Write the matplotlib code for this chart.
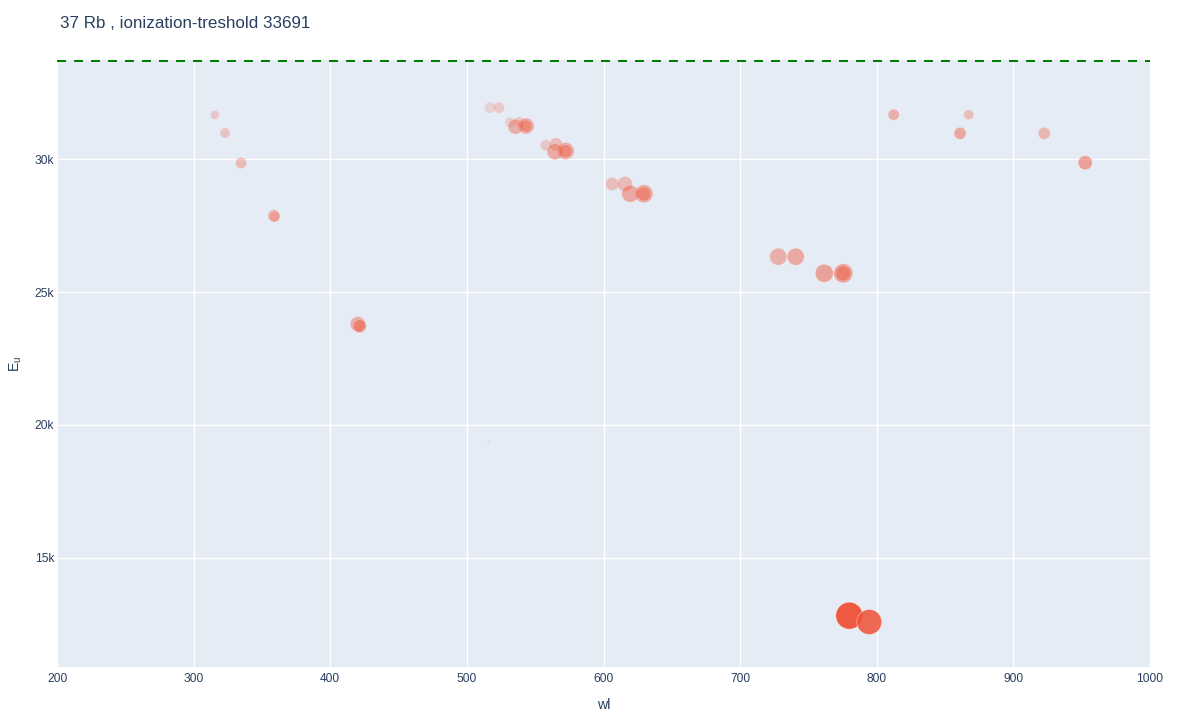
import numpy as np
import matplotlib
matplotlib.use("Agg")
import matplotlib.pyplot as plt

plt.rcParams['font.family'] = ['Liberation Sans', 'DejaVu Sans']

# Rb lines: wavelength (nm), upper level energy (cm-1), marker size, opacity
wl = [315.6, 323.0, 334.7, 358.7, 359.2, 420.2, 421.6, 516.4,
      516.9, 523.5, 531.6, 538.4, 535.7, 543.3, 543.3,
      557.7, 565.2, 564.5, 572.3, 572.3,
      606.4, 615.7, 619.6, 629.6, 629.6,
      727.9, 740.7, 761.6, 775.5, 775.5,
      779.9, 794.5,
      812.4, 867.3, 861.0, 922.6, 952.6]
e_upper = [31654, 30977, 29850, 27870, 27835, 23793, 23715, 19361,
           31929, 31929, 31380, 31402, 31214, 31241, 31235,
           30515, 30553, 30274, 30301, 30295,
           29060, 29060, 28695, 28695, 28690,
           26327, 26327, 25703, 25703, 25698,
           12831, 12594,
           31665, 31665, 30966, 30966, 29861]
size_val = [9, 10, 11, 12, 11, 15, 13, 3,
            11, 11, 10, 10, 15, 16, 12,
            11, 13, 16, 17, 13,
            13, 15, 17, 18, 14,
            17, 17, 18, 19, 15,
            27, 25,
            11, 10, 12, 12, 14]
opac = [0.24, 0.27, 0.33, 0.3, 0.3, 0.42, 0.5, 0.1,
        0.18, 0.22, 0.2, 0.22, 0.4, 0.42, 0.4,
        0.25, 0.3, 0.42, 0.42, 0.4,
        0.3, 0.33, 0.45, 0.45, 0.42,
        0.4, 0.45, 0.48, 0.5, 0.45,
        0.97, 0.88,
        0.4, 0.3, 0.45, 0.35, 0.5]
threshold = 33691

fig = plt.figure(figsize=(12, 7.2), dpi=100)
ax = fig.add_axes([57/1200, 1-667/720, (1150-57)/1200, (667-60)/720])
ax.set_facecolor('#E5ECF6')

base = np.array([239, 85, 59]) / 255
cols = [(*base, a) for a in opac]
edges = [(1, 1, 1, a * 0.6) for a in opac]
s = [(d * 0.72) ** 2 for d in size_val]
ax.scatter(wl, e_upper, s=s, c=cols, edgecolors=edges, linewidths=0.5, zorder=3)

ax.plot([200, 1000], [threshold, threshold], color='green', lw=1.44,
        dashes=(4.5, 4), clip_on=False, zorder=4)

ax.set_xlim(200, 1000)
ax.set_ylim(10902, 33722)
ax.set_xticks(range(200, 1001, 100))
ax.set_yticks([15000, 20000, 25000, 30000])
ax.set_yticklabels(['15k', '20k', '25k', '30k'])
ax.grid(True, color='white', lw=1)
ax.set_axisbelow(True)
for sp in ax.spines.values():
    sp.set_visible(False)
ax.tick_params(length=0, labelsize=8.64, colors='#2a3f5f')
ax.tick_params(axis='x', pad=4)
ax.tick_params(axis='y', pad=2)

ax.set_xlabel('wl', fontsize=10.08, color='#2a3f5f', labelpad=10)
ax.set_ylabel(r'E$_\mathregular{u}$', fontsize=10.08, color='#2a3f5f', labelpad=8)

fig.text(60/1200, 1-24/720, '37 Rb , ionization-treshold 33691',
         fontsize=12.24, color='#2a3f5f', va='center', ha='left')

fig.savefig('out.png', dpi=100)
